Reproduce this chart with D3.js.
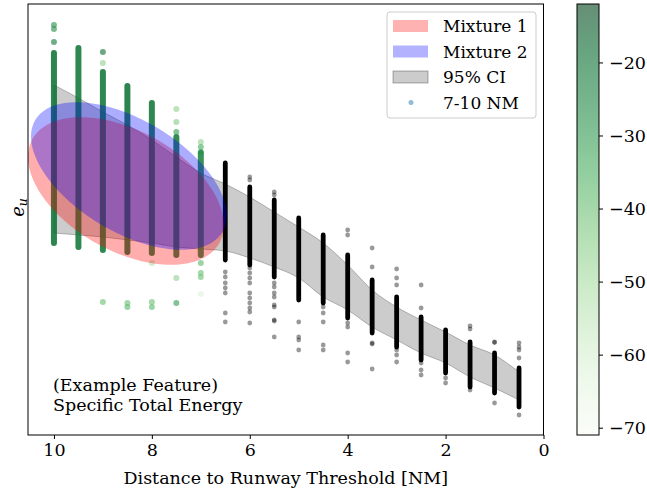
<!DOCTYPE html>
<html>
<head>
<meta charset="utf-8">
<script src="https://cdn.jsdelivr.net/npm/d3@7"></script>
<style>
  body { margin: 0; background: #fff; }
  svg { font-family: "DejaVu Serif", serif; }
</style>
</head>
<body>
<svg id="chart" width="647" height="495"></svg>
<script>
// distance columns (NM)
const distances = [10, 9.5, 9, 8.5, 8, 7.5, 7, 6.5, 6, 5.5, 5, 4.5, 4, 3.5, 3, 2.5, 2, 1.5, 1, 0.5];
// dense part of every column
const denseTop = [38.2, 38.7, 36.3, 34.9, 33.2, 29.8, 28.2, 27.2, 24.8, 23.5, 21.7, 20.0, 18.0, 15.5, 13.8, 11.8, 10.5, 9.3, 8.2, 6.7];
const denseBottom = [19.2, 18.8, 18.5, 18.3, 18.2, 18.0, 18.0, 17.5, 17.0, 15.8, 13.5, 13.2, 11.7, 10.2, 8.8, 7.5, 6.2, 4.8, 4.2, 2.8];
// colour value of the dense 7-10 NM columns
const denseColor = [-20, -21, -21, -20, -21, -22, -24];

// single points of the 7-10 NM group: [distance, value, colour]
const greenPoints = [
  [10, 41.0, -27], [10, 40.6, -27], [10, 39.3, -22],
  [9, 38.3, -20], [9, 37.2, -46], [9, 13.3, -40],
  [8.5, 13.2, -40], [8.5, 12.8, -38],
  [8, 17.2, -52], [8, 13.3, -40], [8, 12.8, -38],
  [7.5, 32.6, -46], [7.5, 31.3, -44], [7.5, 30.3, -30], [7.5, 15.7, -46], [7.5, 13.2, -30],
  [7, 29.3, -46], [7, 28.8, -34], [7, 28.3, -28], [7, 17.2, -38], [7, 16.2, -40], [7, 15.8, -40], [7, 14.1, -62]
];

// single points closer than 7 NM: [distance, value]
const greyPoints = [
  [6.5, 16.3], [6.5, 15.8], [6.5, 15.2], [6.5, 14.7], [6.5, 14.2], [6.5, 12.2], [6.5, 11.3],
  [6, 25.8], [6, 25.5], [6, 16.7], [6, 16.2], [6, 15.7], [6, 15.2], [6, 14.2], [6, 13.7], [6, 13.2], [6, 12.7], [6, 12.3], [6, 11.2],
  [5.5, 24.3], [5.5, 24.0], [5.5, 15.2], [5.5, 14.8], [5.5, 14.2], [5.5, 13.8], [5.5, 13.0], [5.5, 12.8], [5.5, 11.5], [5.5, 11.4], [5.5, 9.8],
  [5, 11.3], [5, 9.8], [5, 9.5], [5, 8.5],
  [4.5, 12.8], [4.5, 12.2], [4.5, 11.3], [4.5, 9.0], [4.5, 8.5],
  [4, 20.5], [4, 20.0], [4, 11.2], [4, 10.8], [4, 8.2], [4, 7.3],
  [3.5, 18.7], [3.5, 16.8], [3.5, 9.2], [3.5, 9.1], [3.5, 6.6],
  [3, 16.6], [3, 15.7], [3, 15.0], [3, 8.5], [3, 8.0], [3, 7.3],
  [2.5, 15.0], [2.5, 12.7], [2.5, 7.2], [2.5, 6.5], [2.5, 6.0],
  [2, 5.7], [2, 5.2],
  [1.5, 10.9], [1.5, 10.6], [1.5, 4.5],
  [1, 9.3], [1, 9.25], [1, 3.2],
  [0.5, 9.2], [0.5, 8.8], [0.5, 8.5], [0.5, 7.7], [0.5, 2.0]
];

// 95% CI band
const ciUpper = [35.0, 33.7, 32.3, 31.0, 29.5, 27.8, 26.2, 25.1, 23.8, 22.3, 20.8, 19.2, 17.0, 14.5, 12.8, 11.5, 10.3, 9.0, 8.0, 6.3];
const ciLower = [20.2, 20.0, 19.8, 19.5, 19.2, 18.8, 18.6, 18.4, 17.7, 16.8, 15.7, 13.8, 12.5, 10.8, 9.5, 8.2, 7.2, 5.8, 4.7, 3.5];

// mixture ellipses: centre and the two half-axis vectors, in data units
const mixtureNames = ['Mixture 1', 'Mixture 2'];
const mixtureColors = ['#ff0000', '#0000ff'];
const mixtureCenters = [[8.53, 24.4], [8.47, 25.9]];
const mixtureMajor = [[-1.91, -5.19], [-1.91, -5.61]];
const mixtureMinor = [[0.594, -5.25], [0.588, -4.80]];

const xTicks = [10, 8, 6, 4, 2, 0];
const colorTicks = [-70, -60, -50, -40, -30, -20];
const colorDomain = [-71, -12];

const svg = d3.select('#chart');
const plot = { left: 28, right: 543.5, top: 4, bottom: 435 };
const fontSize = 17.5;

const x = d3.scaleLinear().domain([10.53, 0]).range([plot.left, plot.right]);
const y = d3.scaleLinear().domain([0, 43.1]).range([plot.bottom, plot.top]);
const colorOf = v => d3.interpolateGreens((v - colorDomain[0]) / (colorDomain[1] - colorDomain[0]));

svg.append('defs').append('clipPath').attr('id', 'clip')
  .append('rect')
  .attr('x', plot.left).attr('y', plot.top)
  .attr('width', plot.right - plot.left).attr('height', plot.bottom - plot.top);

const g = svg.append('g').attr('clip-path', 'url(#clip)');

// CI band
const band = d3.area()
  .x((d, i) => x(distances[i]))
  .y0((d, i) => y(ciLower[i]))
  .y1((d, i) => y(ciUpper[i]))
  .curve(d3.curveMonotoneX);

g.append('path')
  .attr('d', band(distances))
  .attr('fill', 'rgba(0,0,0,0.2)')
  .attr('stroke', 'rgba(0,0,0,0.25)')
  .attr('stroke-width', 1);

// dense columns
distances.forEach((d, i) => {
  const green = i < denseColor.length;
  g.append('line')
    .attr('x1', x(d)).attr('x2', x(d))
    .attr('y1', y(denseTop[i])).attr('y2', y(denseBottom[i]))
    .attr('stroke', green ? colorOf(denseColor[i]) : '#000')
    .attr('stroke-opacity', green ? 0.85 : 1)
    .attr('stroke-width', green ? 6 : 4.8)
    .attr('stroke-linecap', 'round');
});

g.selectAll('circle.grey')
  .data(greyPoints)
  .join('circle')
  .attr('class', 'grey')
  .attr('cx', d => x(d[0]))
  .attr('cy', d => y(d[1]))
  .attr('r', 2.4)
  .attr('fill', '#000')
  .attr('fill-opacity', 0.4);

g.selectAll('circle.green')
  .data(greenPoints)
  .join('circle')
  .attr('class', 'green')
  .attr('cx', d => x(d[0]))
  .attr('cy', d => y(d[1]))
  .attr('r', 3)
  .attr('fill', d => colorOf(d[2]))
  .attr('fill-opacity', 0.6);

// ellipses
const steps = d3.range(0, 2 * Math.PI, Math.PI / 90);
mixtureNames.forEach((name, i) => {
  const [cx, cy] = mixtureCenters[i];
  const pts = steps.map(t => [
    x(cx + mixtureMajor[i][0] * Math.cos(t) + mixtureMinor[i][0] * Math.sin(t)),
    y(cy + mixtureMajor[i][1] * Math.cos(t) + mixtureMinor[i][1] * Math.sin(t))
  ]);
  g.append('path')
    .attr('d', d3.line().curve(d3.curveLinearClosed)(pts))
    .attr('fill', mixtureColors[i])
    .attr('fill-opacity', 0.32);
});

// frame and axes
svg.append('rect')
  .attr('x', plot.left).attr('y', plot.top)
  .attr('width', plot.right - plot.left).attr('height', plot.bottom - plot.top)
  .attr('fill', 'none').attr('stroke', '#000').attr('stroke-width', 1);

const xAxis = svg.append('g')
  .attr('transform', `translate(0, ${plot.bottom})`)
  .call(d3.axisBottom(x).tickValues(xTicks).tickSize(4).tickPadding(5).tickFormat(d3.format('d')));
xAxis.select('.domain').remove();
xAxis.selectAll('text').attr('font-size', fontSize).attr('font-family', 'DejaVu Serif').attr('fill', '#000');

svg.append('text')
  .attr('x', (plot.left + plot.right) / 2)
  .attr('y', 484)
  .attr('text-anchor', 'middle')
  .attr('font-size', fontSize)
  .text('Distance to Runway Threshold [NM]');

const yLabel = svg.append('text')
  .attr('transform', `translate(24, ${(plot.top + plot.bottom) / 2 - 12}) rotate(-90)`)
  .attr('text-anchor', 'middle')
  .attr('font-size', 18)
  .attr('font-style', 'italic');
yLabel.append('tspan').text('e');
yLabel.append('tspan').attr('font-size', 12.5).attr('dy', 3).text('u');

svg.append('text')
  .attr('x', 53).attr('y', 391)
  .attr('font-size', fontSize)
  .text('(Example Feature)');
svg.append('text')
  .attr('x', 53).attr('y', 411)
  .attr('font-size', fontSize)
  .text('Specific Total Energy');

// legend
const legend = svg.append('g').attr('transform', 'translate(387, 12)');
legend.append('rect')
  .attr('width', 149).attr('height', 106).attr('rx', 3)
  .attr('fill', 'rgba(255,255,255,0.8)')
  .attr('stroke', '#cccccc');
const legendItems = [
  { label: mixtureNames[0], fill: 'rgba(255,0,0,0.3)', stroke: 'none' },
  { label: mixtureNames[1], fill: 'rgba(0,0,255,0.3)', stroke: 'none' },
  { label: '95% CI', fill: 'rgba(0,0,0,0.2)', stroke: 'rgba(0,0,0,0.3)' },
  { label: '7-10 NM', dot: true }
];
legendItems.forEach((item, i) => {
  const row = legend.append('g').attr('transform', `translate(0, ${14 + i * 25.5})`);
  if (item.dot) {
    row.append('circle').attr('cx', 24).attr('cy', 0).attr('r', 2.5)
      .attr('fill', 'rgba(31,119,180,0.5)');
  } else {
    row.append('rect').attr('x', 6).attr('y', -6).attr('width', 35).attr('height', 12)
      .attr('fill', item.fill).attr('stroke', item.stroke);
  }
  row.append('text').attr('x', 56).attr('y', 6).attr('font-size', 17).text(item.label);
});

// colorbar
const cb = { left: 577, width: 22, top: 4, bottom: 435 };
const cbScale = d3.scaleLinear().domain(colorDomain).range([cb.bottom, cb.top]);
const grad = svg.select('defs').append('linearGradient')
  .attr('id', 'cbgrad').attr('x1', 0).attr('y1', 1).attr('x2', 0).attr('y2', 0);
d3.range(0, 1.0001, 0.05).forEach(t => {
  grad.append('stop').attr('offset', t)
    .attr('stop-color', d3.interpolateGreens(t)).attr('stop-opacity', 0.6);
});
svg.append('rect')
  .attr('x', cb.left).attr('y', cb.top)
  .attr('width', cb.width).attr('height', cb.bottom - cb.top)
  .attr('fill', 'url(#cbgrad)')
  .attr('stroke', '#000').attr('stroke-width', 1);
const cbAxis = svg.append('g')
  .attr('transform', `translate(${cb.left + cb.width}, 0)`)
  .call(d3.axisRight(cbScale).tickValues(colorTicks).tickSize(4).tickPadding(6));
cbAxis.select('.domain').remove();
cbAxis.selectAll('text').attr('font-size', fontSize).attr('font-family', 'DejaVu Serif').attr('fill', '#000');
</script>
</body>
</html>
